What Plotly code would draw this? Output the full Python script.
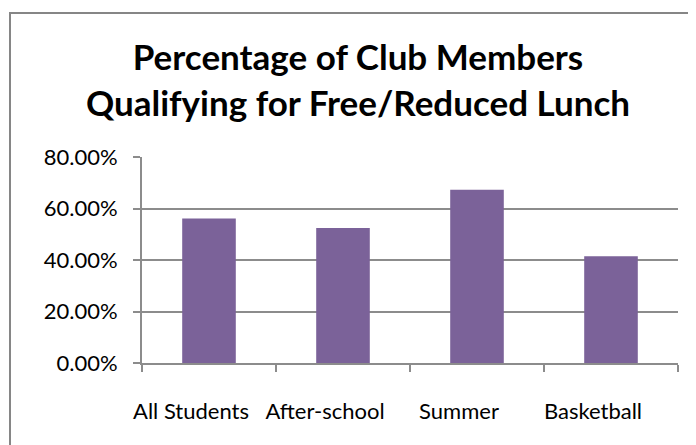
import plotly.graph_objects as go

categories = ["All Students", "After-school", "Summer", "Basketball"]
values = [0.561, 0.524, 0.673, 0.415]
y_ticks = [0, 0.2, 0.4, 0.6, 0.8]
y_tick_labels = ["0.00%", "20.00%", "40.00%", "60.00%", "80.00%"]
title_text = "Percentage of Club Members<br>Qualifying for Free/Reduced Lunch"

# page body has an 8px margin
W, H = 688, 437
L, T = 134, 149
pw, ph = 536, 206
R, B = W - L - pw, H - T - ph

def px_x(p):
    return (p - L) / pw

def px_y(p):
    return (H - B - p) / ph

fig = go.Figure(go.Bar(x=categories, y=values, marker=dict(color="#7B6299", line=dict(width=0)), width=0.4))

fig.update_layout(
    width=W, height=H,
    margin=dict(l=L, r=R, t=T, b=B),
    paper_bgcolor="white", plot_bgcolor="white",
    font=dict(family="Lato, Open Sans, sans-serif", color="black", size=22),
    title=dict(text="<b>" + title_text + "</b>", x=350 / W, xanchor="center",
               y=1 - 62 / H, yanchor="middle",
               font=dict(size=35, family="Lato, sans-serif", color="black")),
    showlegend=False,
    bargap=0.6,
    shapes=[dict(type="rect", xref="paper", yref="paper",
                 x0=px_x(2), x1=px_x(720), y0=px_y(470), y1=px_y(5),
                 line=dict(color="#868686", width=2), fillcolor="rgba(0,0,0,0)", layer="below")],
)
fig.update_yaxes(range=[0, 0.8], tickvals=y_ticks, ticktext=y_tick_labels,
                 showgrid=True, gridcolor="#8c8c8c", gridwidth=2,
                 showline=True, linecolor="#8c8c8c", linewidth=2,
                 ticks="outside", ticklen=7, tickcolor="#8c8c8c", tickwidth=2,
                 zeroline=False, ticklabelstandoff=11)
fig.update_xaxes(showline=True, linecolor="#8c8c8c", linewidth=2,
                 ticks="outside", ticklen=7, tickcolor="#8c8c8c", tickwidth=2,
                 tickson="boundaries", showgrid=False, ticklabelshift=-18,
                 ticklabelstandoff=28, tickangle=0)

fig.write_html("out.html")
